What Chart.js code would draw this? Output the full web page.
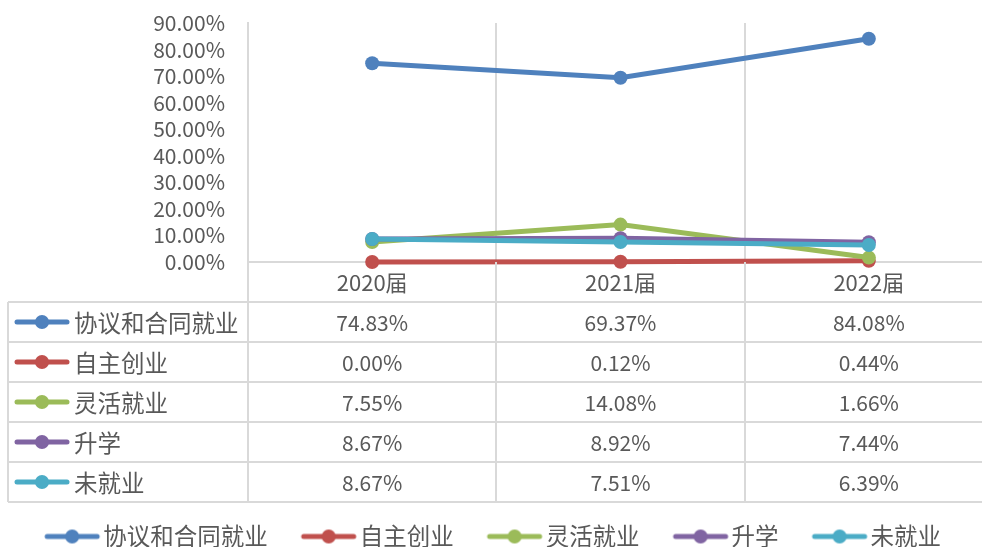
<!DOCTYPE html>
<html>
<head>
<meta charset="utf-8">
<script src="https://cdn.jsdelivr.net/npm/chart.js@4/dist/chart.umd.min.js"></script>
<style>
html,body{margin:0;padding:0;background:#fff;overflow:hidden;}
#wrap{width:1000px;height:547px;position:relative;}
</style>
</head>
<body>
<div id="wrap"><canvas id="myChart"></canvas></div>
<script>
// categories
const years = ["2020届", "2021届", "2022届"];
const seriesNames = ["协议和合同就业", "自主创业", "灵活就业", "升学", "未就业"];
// values in percent
const contract = [74.83, 69.37, 84.08];
const selfEmployed = [0.00, 0.12, 0.44];
const flexible = [7.55, 14.08, 1.66];
const furtherStudy = [8.67, 8.92, 7.44];
const unemployed = [8.67, 7.51, 6.39];
const yMax = 90;
const yStep = 10;

const colors = ["#4F81BD", "#C0504D", "#9BBB59", "#8064A2", "#4BACC6"];
const allValues = [contract, selfEmployed, flexible, furtherStudy, unemployed];

const textColor = "#595959";
const lineColor = "#d9d9d9";
const FONT = "'Noto Sans CJK SC', 'Open Sans', sans-serif";
const cjkSize = 23.5;   // chinese labels
const numSize = 21;     // percent numbers
const catSize = 22;     // 2020届 ...

// little line+marker key, like the excel legend
function keyImage(color) {
    const c = document.createElement("canvas");
    c.width = 58; c.height = 16;
    const g = c.getContext("2d");
    g.strokeStyle = color;
    g.lineWidth = 5;
    g.lineCap = "round";
    g.beginPath(); g.moveTo(4, 8); g.lineTo(54, 8); g.stroke();
    g.fillStyle = color;
    g.beginPath(); g.arc(29, 8, 7, 0, Math.PI * 2); g.fill();
    return c;
}
const keys = colors.map(keyImage);

function pct(v) {
    return v.toFixed(2) + "%";
}

// data table under the plot, excel style
const dataTable = {
    id: "dataTable",
    afterDraw(chart) {
        const ctx = chart.ctx;
        const xs = chart.scales.x;
        const ca = chart.chartArea;
        const n = years.length;
        const w = (xs.right - xs.left) / n;
        const headH = 40, rowH = 40;
        const top = ca.bottom;
        const tTop = top + headH;
        const bottom = tTop + rowH * seriesNames.length;
        const tLeft = 8;

        ctx.save();
        ctx.strokeStyle = lineColor;
        ctx.lineWidth = 2;
        ctx.beginPath();
        for (let i = 0; i <= n; i++) {
            const x = Math.round(xs.left + i * w);
            ctx.moveTo(x, top); ctx.lineTo(x, bottom);
        }
        ctx.moveTo(tLeft, tTop); ctx.lineTo(tLeft, bottom);
        for (let r = 0; r <= seriesNames.length; r++) {
            const y = tTop + r * rowH;
            ctx.moveTo(tLeft, y); ctx.lineTo(xs.right, y);
        }
        ctx.stroke();

        ctx.fillStyle = textColor;
        ctx.textBaseline = "middle";
        chart.data.datasets.forEach((ds, r) => {
            const cy = tTop + r * rowH + rowH / 2;
            ctx.drawImage(keys[r], 13, cy - 8);
            ctx.textAlign = "left";
            ctx.font = cjkSize + "px " + FONT;
            ctx.fillText(ds.label, 74, cy + 1);
            ctx.textAlign = "center";
            ctx.font = numSize + "px " + FONT;
            ds.data.forEach((v, i) => {
                ctx.fillText(pct(v), xs.getPixelForValue(i), cy + 1);
            });
        });
        ctx.restore();
    }
};

new Chart("myChart", {
    type: "line",
    data: {
        labels: years,
        datasets: allValues.map((vals, i) => ({
            label: seriesNames[i],
            data: vals,
            borderColor: colors[i],
            backgroundColor: colors[i],
            borderWidth: 5,
            pointRadius: 7,
            pointHoverRadius: 7,
            pointBorderWidth: 0,
            pointBackgroundColor: colors[i],
            clip: false,
            order: allValues.length - 1 - i
        }))
    },
    options: {
        responsive: true,
        maintainAspectRatio: false,
        animation: false,
        layout: { padding: { top: 23, right: 6, left: 0, bottom: 0 } },
        plugins: {
            tooltip: { enabled: false },
            legend: {
                position: "bottom",
                maxHeight: 64,
                labels: {
                    usePointStyle: true,
                    pointStyleWidth: 38.5,
                    padding: 41.75,
                    color: textColor,
                    font: { family: FONT, size: cjkSize },
                    generateLabels: chart => chart.data.datasets.map((d, i) => ({
                        text: d.label,
                        fillStyle: d.borderColor,
                        strokeStyle: d.borderColor,
                        fontColor: textColor,
                        lineWidth: 0,
                        pointStyle: keys[i],
                        datasetIndex: i,
                        hidden: false
                    }))
                }
            }
        },
        scales: {
            x: {
                offset: true,
                grid: { display: true, offset: true, color: lineColor, lineWidth: 2, drawTicks: false },
                border: { display: true, color: lineColor, width: 2 },
                ticks: { color: textColor, font: { family: FONT, size: catSize }, padding: 7, maxRotation: 0 },
                afterFit: s => { s.height = 221; }
            },
            y: {
                min: 0,
                max: yMax,
                grid: { display: false, drawTicks: true, tickLength: 23 },
                border: { display: true, color: lineColor, width: 2 },
                ticks: {
                    stepSize: yStep,
                    autoSkip: false,
                    color: textColor,
                    font: { family: FONT, size: numSize },
                    padding: 0,
                    callback: v => pct(v)
                },
                afterFit: s => { s.width = 248; }
            }
        }
    },
    plugins: [dataTable]
});
</script>
</body>
</html>
